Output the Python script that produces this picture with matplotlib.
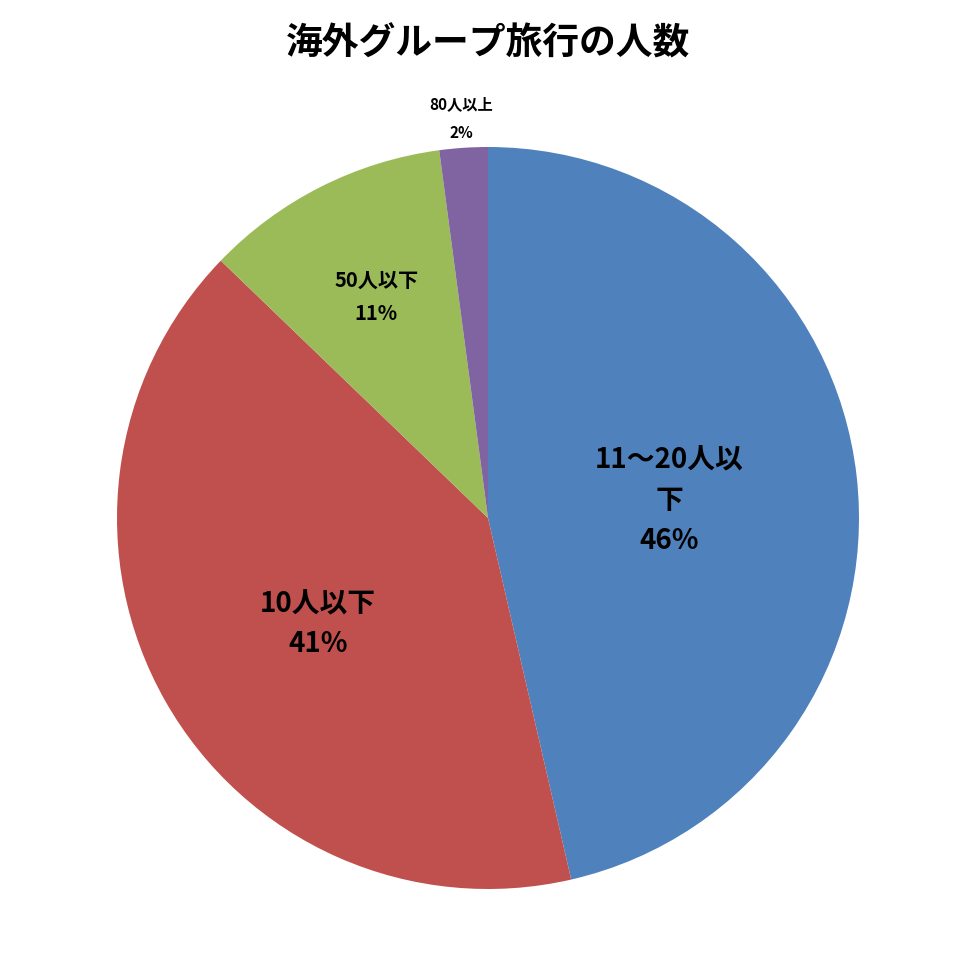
import numpy as np
import matplotlib
matplotlib.use('Agg')
import matplotlib.pyplot as plt

plt.rcParams['font.family'] = ['Noto Sans CJK JP', 'DejaVu Sans']

# data (percent of groups)
categories = ['11～20人以\n下', '10人以下', '50人以下', '80人以上']
shares = [46.4, 40.8, 10.7, 2.1]
colors = ['#4F81BD', '#C0504D', '#9BBB59', '#8064A2']

# label placement / size per slice (distance from centre, angle nudge in deg)
label_dist = [0.49, 0.54, 0.667, 1.08]
label_nudge = [-1, 2.5, 0, 0]
label_size = [20, 20, 14.5, 11]
label_spacing = [1.55, 1.55, 1.7, 2.0]

fig = plt.figure(figsize=(9.77, 9.69), dpi=100)
cx, cy, r = 488, 518, 371
ax = fig.add_axes([(cx - r) / 977, (969 - cy - r) / 969, 2 * r / 977, 2 * r / 969])

wedges, _ = ax.pie(shares, colors=colors, startangle=90, counterclock=False,
                   radius=1, wedgeprops=dict(linewidth=0))
ax.set_xlim(-1, 1)
ax.set_ylim(-1, 1)
ax.set_axis_off()

for w, cat, s, d, nd, fs, ls in zip(wedges, categories, shares, label_dist,
                                    label_nudge, label_size, label_spacing):
    mid = np.deg2rad((w.theta1 + w.theta2) / 2 + nd)
    ax.text(d * np.cos(mid), d * np.sin(mid), f'{cat}\n{round(s)}%',
            ha='center', va='center', fontsize=fs, fontweight='bold',
            linespacing=ls, clip_on=False)

fig.text(0.5, 1 - 44 / 969, '海外グループ旅行の人数', ha='center', va='center',
         fontsize=26.5, fontweight='bold')

fig.savefig('out.png', dpi=100)
